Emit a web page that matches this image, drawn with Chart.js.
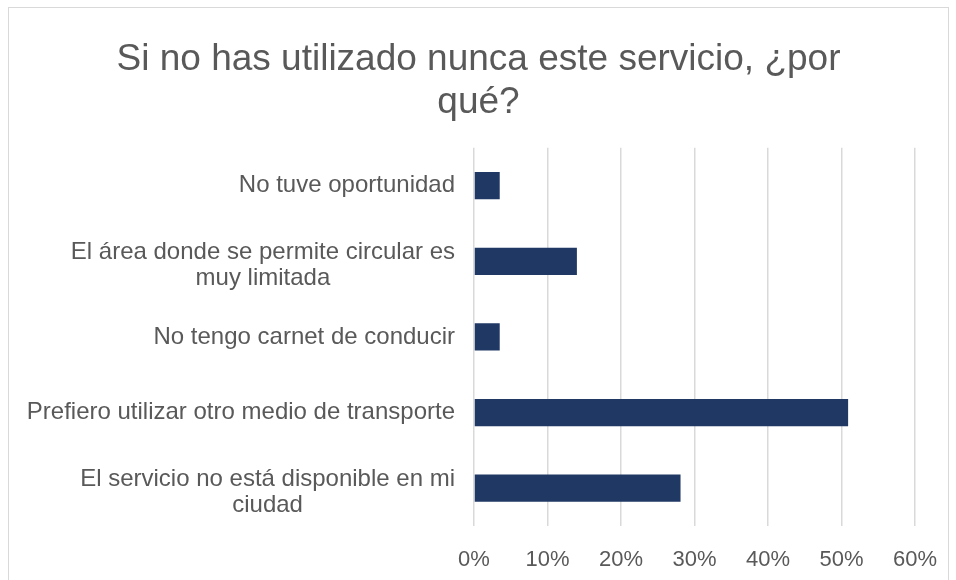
<!DOCTYPE html>
<html>
<head>
<meta charset="utf-8">
<script src="https://cdn.jsdelivr.net/npm/chart.js@4.4.0/dist/chart.umd.min.js"></script>
<style>
    html, body { margin: 0; padding: 0; background: #fff; width: 956px; height: 580px; overflow: hidden; }
    #box { position: absolute; left: 8px; top: 7px; width: 939px; height: 600px; border: 1px solid #d9d9d9; }
    #chart { display: block; }
</style>
</head>
<body>
<div id="box"><canvas id="chart" width="939" height="573"></canvas></div>
<script>
// data
const categories = [
    ["No tuve oportunidad"],
    ["El área donde se permite circular es", "muy limitada"],
    ["No tengo carnet de conducir"],
    ["Prefiero utilizar otro medio de transporte"],
    ["El servicio no está disponible en mi", "ciudad"]
];
const percents = [3.5, 14.0, 3.5, 50.9, 28.1];
const xTicks = [0, 10, 20, 30, 40, 50, 60];

const TEXT = '#595959';
const FONT = 'Liberation Sans, Arial, sans-serif';

// Excel-style category labels: block right-aligned, lines centered inside it
const labelPlugin = {
    id: 'labelPlugin',
    afterDraw(chart) {
        const ctx = chart.ctx;
        const y = chart.scales.y;
        const right = y.right - 19;
        const lh = 26;
        ctx.save();
        ctx.font = '24px ' + FONT;
        ctx.fillStyle = TEXT;
        ctx.textAlign = 'center';
        ctx.textBaseline = 'middle';
        categories.forEach((lines, i) => {
            const cy = y.getPixelForValue(i) + (lines.length > 1 ? 4 : 0);
            const w = Math.max(...lines.map(l => ctx.measureText(l).width));
            const cx = right - w / 2;
            const top = cy - (lines.length - 1) * lh / 2;
            lines.forEach((l, k) => ctx.fillText(l, cx, top + k * lh));
        });
        ctx.restore();
    }
};

new Chart(document.getElementById('chart'), {
    type: 'bar',
    data: {
        labels: categories,
        datasets: [{ data: percents, backgroundColor: '#203864', categoryPercentage: 1, barPercentage: 0.36 }]
    },
    options: {
        indexAxis: 'y',
        responsive: false,
        animation: false,
        layout: { padding: { left: 33, right: 33, top: 0, bottom: 0 } },
        plugins: {
            legend: { display: false },
            tooltip: { enabled: false },
            title: {
                display: true,
                text: ['Si no has utilizado nunca este servicio, ¿por', 'qué?'],
                color: TEXT,
                font: { family: FONT, size: 37, weight: 'normal', lineHeight: 1.16 },
                padding: { top: 30, bottom: 24 }
            }
        },
        scales: {
            x: {
                min: 0, max: 60,
                afterBuildTicks: s => { s.ticks = xTicks.map(v => ({ value: v })); },
                afterFit: s => { s.height = 55; s.paddingLeft = 0; s.paddingRight = 0; },
                grid: { color: '#d9d9d9', lineWidth: 1.5, drawTicks: false },
                border: { display: false },
                ticks: { color: TEXT, font: { family: FONT, size: 22 }, padding: 21, maxRotation: 0, callback: v => v + '%' }
            },
            y: {
                afterFit: s => { s.width = 432; },
                grid: { display: false },
                border: { display: false },
                ticks: { color: 'rgba(0,0,0,0)', font: { family: FONT, size: 19 } }
            }
        }
    },
    plugins: [labelPlugin]
});
</script>
</body>
</html>
